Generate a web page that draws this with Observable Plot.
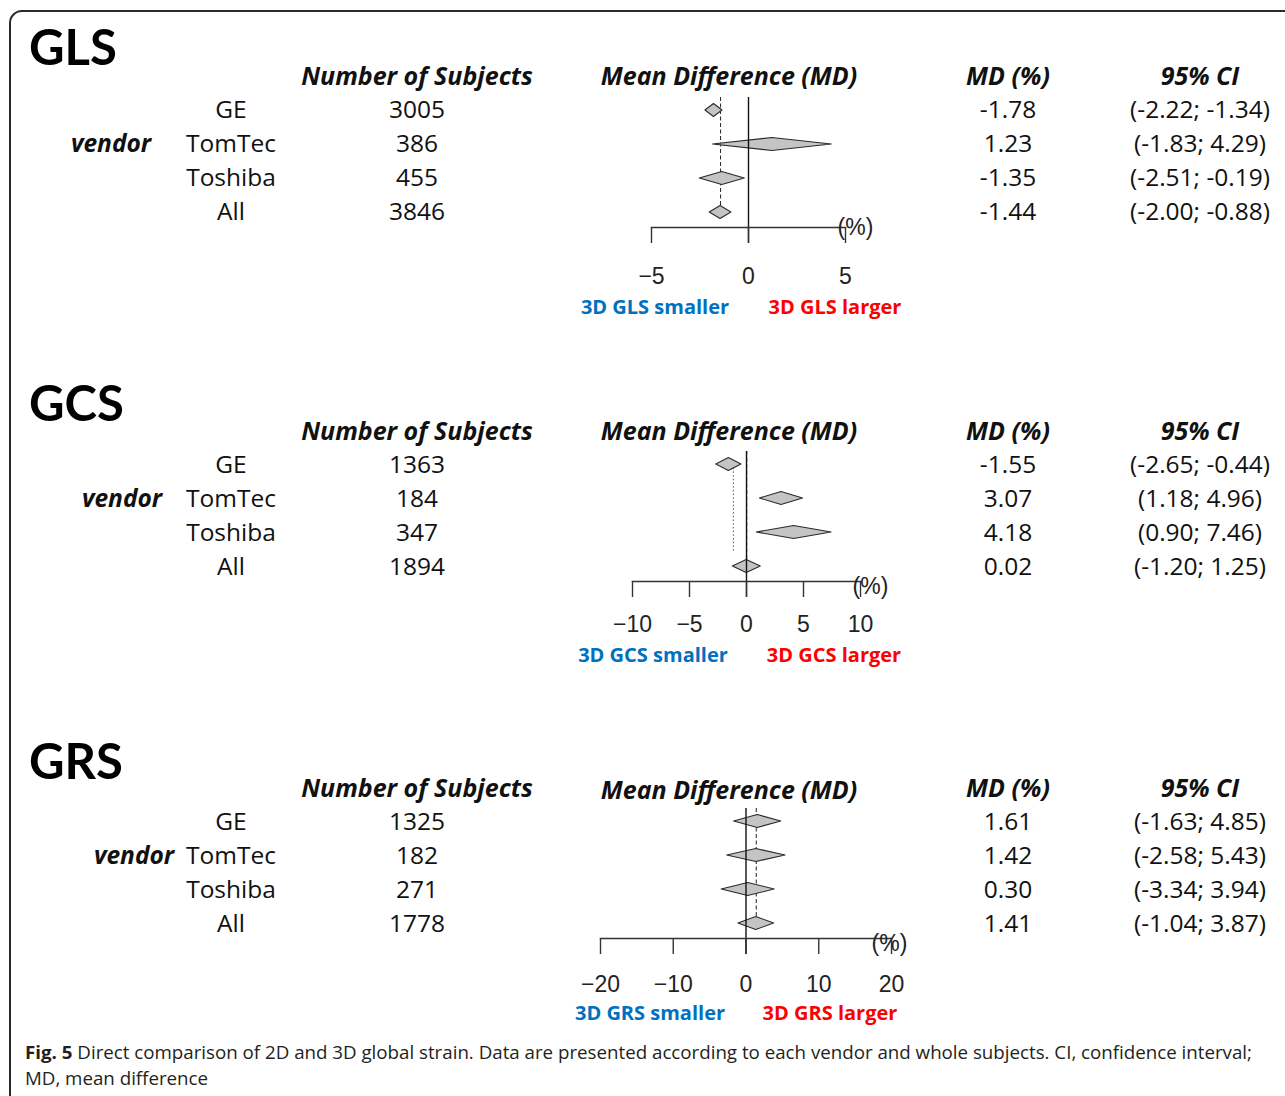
<!DOCTYPE html>
<html><head><meta charset="utf-8">
<script src="https://cdn.jsdelivr.net/npm/d3@7"></script>
<script src="https://cdn.jsdelivr.net/npm/@observablehq/plot@0.6"></script>
<style>
html,body{margin:0;padding:0;background:#fff;}
#page{position:relative;width:1285px;height:1096px;overflow:hidden;background:#fff;font-family:"Open Sans",Lato,sans-serif;color:#111;}
.border{position:absolute;left:9px;top:10px;width:1400px;height:1200px;border:2px solid #2a2a2a;border-radius:13px;box-sizing:border-box;}
.t{position:absolute;white-space:nowrap;line-height:1;}
.plotbox{position:absolute;left:560px;}
</style></head><body><div id="page"><div class="border"></div></div>
<script>
// ---------- data ----------
const vendors = ["GE", "TomTec", "Toshiba", "All"];
const measures = ["GLS", "GCS", "GRS"];

const glsN  = [3005, 386, 455, 3846];
const glsMD = [-1.78, 1.23, -1.35, -1.44];
const glsLo = [-2.22, -1.83, -2.51, -2.00];
const glsHi = [-1.34, 4.29, -0.19, -0.88];

const gcsN  = [1363, 184, 347, 1894];
const gcsMD = [-1.55, 3.07, 4.18, 0.02];
const gcsLo = [-2.65, 1.18, 0.90, -1.20];
const gcsHi = [-0.44, 4.96, 7.46, 1.25];

const grsN  = [1325, 182, 271, 1778];
const grsMD = [1.61, 1.42, 0.30, 1.41];
const grsLo = [-1.63, -2.58, -3.34, -1.04];
const grsHi = [4.85, 5.43, 3.94, 3.87];

const glsTicks = [-5, 0, 5];
const gcsTicks = [-10, -5, 0, 5, 10];
const grsTicks = [-20, -10, 0, 10, 20];

// secondary (dotted) reference line seen in the GCS panel
const gcsDottedRef = -1.15;

const headers = ["Number of Subjects", "Mean Difference (MD)", "MD (%)", "95% CI"];
const captionBold = "Fig. 5";
const captionLine1 = " Direct comparison of 2D and 3D global strain. Data are presented according to each vendor and whole subjects. CI, confidence interval;";
const captionLine2 = "MD, mean difference";

// ---------- layout (pixels) ----------
const layout = [
  {titleY: 46, headY: 75, headMDY: 75, row0: 109, vendorX: 111, svgTop: 90, x0px: 651, x1px: 845, pctDx: 10, pctDy: 7, tickPad: 24, labelY: 307, smallX: 655, largeX: 835},
  {titleY: 402, headY: 430, headMDY: 430, row0: 464, vendorX: 122, svgTop: 444, x0px: 632, x1px: 860, pctDx: 10, pctDy: 12, tickPad: 18, labelY: 655, smallX: 653, largeX: 834},
  {titleY: 760, headY: 787, headMDY: 789, row0: 821, vendorX: 134, svgTop: 801, x0px: 600, x1px: 891, pctDx: -2, pctDy: 12, tickPad: 21, labelY: 1013, smallX: 650, largeX: 830}
];
const series = [
  {n: glsN, md: glsMD, lo: glsLo, hi: glsHi, ticks: glsTicks, dotted: null},
  {n: gcsN, md: gcsMD, lo: gcsLo, hi: gcsHi, ticks: gcsTicks, dotted: gcsDottedRef},
  {n: grsN, md: grsMD, lo: grsLo, hi: grsHi, ticks: grsTicks, dotted: null}
];

const page = document.getElementById("page");
function txt(s, x, y, o = {}) {
  const d = document.createElement("div");
  d.className = "t";
  d.textContent = s;
  d.style.left = x + "px";
  d.style.top = y + "px";
  d.style.fontSize = (o.size || 24.5) + "px";
  d.style.fontWeight = o.weight || 400;
  d.style.fontStyle = o.italic ? "italic" : "normal";
  d.style.color = o.color || "#111";
  if (o.family) d.style.fontFamily = o.family;
  d.style.transform = o.anchor === "start" ? "translate(0,-50%)" : "translate(-50%,-50%)";
  page.appendChild(d);
  return d;
}
const f2 = d3.format(".2f");
const fmt2 = v => f2(v).replace("\u2212", "-");
const ciFmt = (lo, hi) => `(${fmt2(lo)}; ${fmt2(hi)})`;

const ROWPX = 34, H = 200, W = 380, AXIS = 137;
const hh = 6.5 / ROWPX; // diamond half height in row units

measures.forEach((m, p) => {
  const L = layout[p], S = series[p];
  txt(m, 29, L.titleY, {size: 49, weight: 700, anchor: "start", color: "#000", family: "Lato, sans-serif"});
  txt(headers[0], 417, L.headY, {size: 25, weight: 700, italic: true});
  txt(headers[1], 729, L.headMDY, {size: 25, weight: 700, italic: true});
  txt(headers[2], 1008, L.headY, {size: 25, weight: 700, italic: true});
  txt(headers[3], 1200, L.headY, {size: 25, weight: 700, italic: true});
  txt("vendor", L.vendorX, L.row0 + ROWPX, {size: 24.5, weight: 700, italic: true});
  vendors.forEach((v, i) => {
    const y = L.row0 + i * ROWPX;
    txt(v, 231, y);
    txt(String(S.n[i]), 417, y);
    txt(fmt2(S.md[i]), 1008, y);
    txt(ciFmt(S.lo[i], S.hi[i]), 1200, y);
  });
  txt(`3D ${m} smaller`, L.smallX, L.labelY, {size: 20, weight: 700, color: "#0070c0"});
  txt(`3D ${m} larger`, L.largeX, L.labelY, {size: 20, weight: 700, color: "#ff0000"});

  // diamonds
  const pts = [];
  vendors.forEach((v, i) => {
    pts.push({row: v, x: S.lo[i], y1: i, y2: i});
    pts.push({row: v, x: S.md[i], y1: i - hh, y2: i + hh});
    pts.push({row: v, x: S.hi[i], y1: i, y2: i});
  });
  const xmin = S.ticks[0], xmax = S.ticks[S.ticks.length - 1];
  const overall = S.md[3];
  const marks = [];
  if (S.dotted !== null) marks.push(Plot.ruleX([S.dotted], {y1: 0, y2: 2.55, stroke: "#555", strokeWidth: 1, strokeDasharray: "1.5,2.2"}));
  marks.push(
    Plot.ruleX([overall], {y1: -13 / ROWPX, y2: 3, stroke: "#222", strokeWidth: 1, strokeDasharray: "4,2.5"}),
    Plot.areaY(pts, {x: "x", y1: "y1", y2: "y2", z: "row", fill: "#c4c4c4", stroke: "#2a2a2a", strokeWidth: 1.1, curve: "linear"}),
    Plot.ruleX([0], {insetBottom: -16, stroke: "#111", strokeWidth: 1.4}),
    Plot.frame({anchor: "bottom", stroke: "#333", strokeWidth: 1.4}),
    Plot.axisX({ticks: S.ticks, tickSize: 16, tickPadding: L.tickPad, stroke: "#333", strokeWidth: 1.4}),
    Plot.text(["(%)"], {x: () => xmax, frameAnchor: "bottom", dx: L.pctDx, dy: L.pctDy, textAnchor: "middle", fill: "#222"})
  );
  const chart = Plot.plot({
    width: W, height: H,
    marginLeft: L.x0px - 560, marginRight: W - (L.x1px - 560),
    marginTop: 7, marginBottom: H - AXIS,
    x: {domain: [xmin, xmax], label: null},
    y: {domain: [0, 3], range: [20, 20 + 3 * ROWPX], axis: null},
    style: {fontFamily: "'Liberation Sans', Arial, sans-serif", fontSize: "23px", color: "#222", background: "transparent", overflow: "visible"},
    marks
  });
  const box = document.createElement("div");
  box.className = "plotbox";
  box.style.top = L.svgTop + "px";
  box.appendChild(chart);
  page.appendChild(box);
});

// caption
function capLine(y, parts) {
  const d = document.createElement("div");
  d.className = "t";
  d.style.left = "25px";
  d.style.top = y + "px";
  d.style.fontFamily = "'Open Sans', sans-serif";
  d.style.fontSize = "18px";
  d.style.color = "#231f20";
  parts.forEach(([s, w]) => {
    const sp = document.createElement("span");
    sp.textContent = s;
    sp.style.fontWeight = w;
    d.appendChild(sp);
  });
  d.style.transformOrigin = "0 50%";
  page.appendChild(d);
  return d;
}
const c1 = capLine(1052, [[captionBold, 700], [captionLine1, 400]]);
const c2 = capLine(1078, [[captionLine2, 400]]);
const k = 1227 / c1.getBoundingClientRect().width;
c1.style.transform = `translate(0,-50%) scaleX(${k})`;
c2.style.transform = `translate(0,-50%) scaleX(${k})`;
</script></body></html>
